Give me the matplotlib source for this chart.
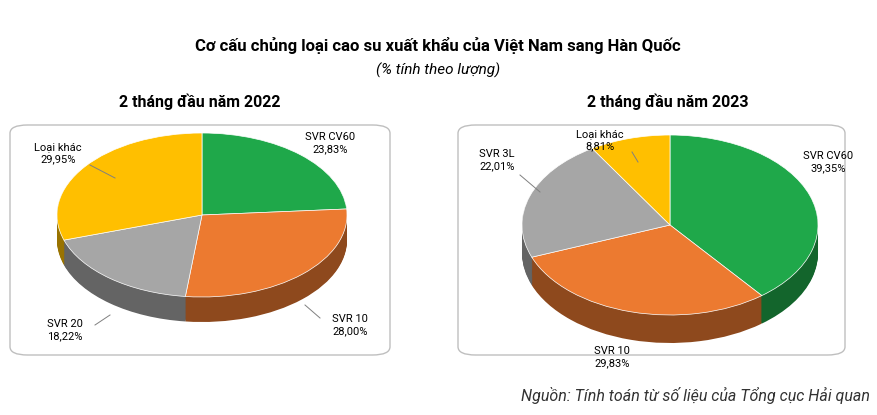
import matplotlib
matplotlib.use("Agg")
import matplotlib.pyplot as plt
from matplotlib.patches import FancyBboxPatch
import matplotlib.colors as mc
import numpy as np

plt.rcParams['font.family'] = ['Roboto', 'DejaVu Sans']

labels22 = ["SVR CV60", "SVR 10", "SVR 20", "Loại khác"]
vals22 = [23.83, 28.00, 18.22, 29.95]
colors22 = ["#1FA84A", "#EC7A30", "#A6A6A6", "#FFBF00"]
labels23 = ["SVR CV60", "SVR 10", "SVR 3L", "Loại khác"]
vals23 = [39.35, 29.83, 22.01, 8.81]
colors23 = ["#1FA84A", "#EC7A30", "#A6A6A6", "#FFBF00"]

W, H = 877, 415
fig = plt.figure(figsize=(W/100, H/100), dpi=100)

def px(x, y):
    return x / W, 1 - y / H

def fmt(v):
    return f"{v:.2f}".replace(".", ",") + "%"

def pie3d(box, cx, cy, rx, ry, depth, vals, cols):
    x0, y0, x1, y1 = box
    p = FancyBboxPatch(px(x0, y1), (x1-x0)/W, (y1-y0)/H,
        boxstyle="round,pad=0,rounding_size=0.02", transform=fig.transFigure,
        facecolor="white", edgecolor="#BFBFBF", lw=1, zorder=-5)
    fig.patches.append(p)
    ax = fig.add_axes([x0/W, 1-y1/H, (x1-x0)/W, (y1-y0)/H], zorder=2)
    ax.patch.set_visible(False)
    dark = [tuple(np.array(mc.to_rgb(c))*0.6) for c in cols]
    n = 30
    for i in range(n, 0, -1):
        d = depth/ry * i / n
        ax.pie(vals, colors=dark, startangle=90, counterclock=False,
               center=(0, -d), radius=1, wedgeprops=dict(linewidth=0))
    ax.pie(vals, colors=cols, startangle=90, counterclock=False,
           radius=1, wedgeprops=dict(linewidth=0.5, edgecolor="white"))
    ax.set_aspect('auto')
    left = (cx-x0)/rx; right = (x1-cx)/rx
    top = (cy-y0)/ry; bot = (y1-cy)/ry
    ax.set_xlim(-left, right); ax.set_ylim(-bot, top)
    ax.axis('off')
    return ax

pie3d((10, 125, 390, 355), 202, 215, 145, 82, 25, vals22, colors22)
pie3d((458, 125, 845, 355), 670, 225, 148, 90, 28, vals23, colors23)

fig.text(*px(438, 45), "Cơ cấu chủng loại cao su xuất khẩu của Việt Nam sang Hàn Quốc",
         ha="center", va="center", fontsize=12, fontweight="bold")
fig.text(*px(438, 70), "(% tính theo lượng)", ha="center", va="center", fontsize=11, style="italic")
fig.text(*px(200, 102), "2 tháng đầu năm 2022", ha="center", va="center", fontsize=11.5, fontweight="bold")
fig.text(*px(668, 102), "2 tháng đầu năm 2023", ha="center", va="center", fontsize=11.5, fontweight="bold")
fig.text(*px(870, 395), "Nguồn: Tính toán từ số liệu của Tổng cục Hải quan", ha="right", va="center",
         fontsize=11.5, style="italic", color="#333333")

def lab(x, y, name, v, ha="center"):
    fig.text(*px(x, y), f"{name}\n{fmt(v)}", ha=ha, va="center", fontsize=8, linespacing=1.2, zorder=5)

lab(330, 143, labels22[0], vals22[0])
lab(350, 325, labels22[1], vals22[1])
lab(65, 330, labels22[2], vals22[2])
lab(58, 153, labels22[3], vals22[3])
lab(828, 162, labels23[0], vals23[0])
lab(612, 357, labels23[1], vals23[1])
lab(497, 160, labels23[2], vals23[2])
lab(600, 140, labels23[3], vals23[3])

def line(a, b):
    fig.add_artist(plt.Line2D([a[0]/W, b[0]/W], [1-a[1]/H, 1-b[1]/H], color="#808080", lw=0.7, zorder=5))
line((90, 165), (115, 178))
line((95, 325), (110, 315))
line((320, 318), (305, 305))
line((520, 175), (540, 192))
line((632, 152), (638, 162))

fig.savefig("out.png", dpi=100)
